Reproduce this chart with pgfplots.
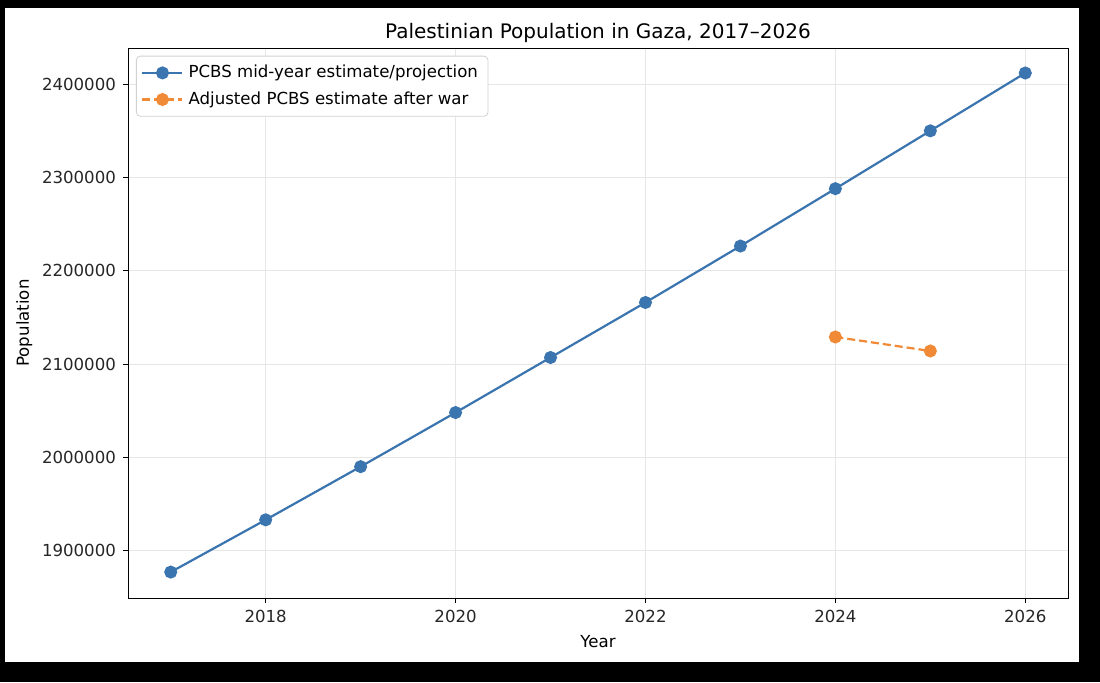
\documentclass[border=0pt]{standalone}
\usepackage{pgfplots}
\pgfplotsset{compat=1.18}
\usepackage{fontspec}
\setmainfont{DejaVu Sans}
\definecolor{mblue}{HTML}{3B75AF}
\definecolor{morange}{HTML}{F08A36}
\definecolor{gridc}{HTML}{E6E6E6}
\begin{document}
\begin{tikzpicture}
\fill[black] (0pt,0pt) rectangle (550pt,341pt);
\fill[white] (2.5pt,10pt) rectangle (539.5pt,337pt);
\begin{axis}[
  at={(64pt,42pt)}, anchor=south west,
  scale only axis, width=470pt, height=275pt,
  xmin=2016.55, xmax=2026.45,
  ymin=1849200, ymax=2438800,
  xtick={2018,2020,2022,2024,2026},
  ytick={1900000,2000000,2100000,2200000,2300000,2400000},
  scaled y ticks=false,
  /pgf/number format/assume math mode=true,
  /pgf/number format/1000 sep={},
  /pgf/number format/fixed,
  tick label style={font=\fontsize{8.3}{10}\selectfont, text=black!85},
  label style={font=\fontsize{8.3}{10}\selectfont},
  tick align=outside, major tick length=2.5pt,
  tick style={black, line width=0.45pt},
  xtick pos=bottom, ytick pos=left,
  grid=major, major grid style={gridc, line width=0.45pt},
  axis line style={black, line width=0.45pt},
  title={Palestinian Population in Gaza, 2017–2026},
  title style={font=\fontsize{10}{12}\selectfont, yshift=-7pt},
  xlabel={Year}, ylabel={Population},
  xlabel style={yshift=0.5pt}, ylabel style={yshift=-2pt},
  legend style={at={(0.0085,0.986)}, anchor=north west, draw=black!18, rounded corners=2pt,
    font=\fontsize{8.3}{10}\selectfont, row sep=1.5pt, inner sep=2.5pt,
    nodes={inner xsep=2.5pt}},
  legend image code/.code={\draw[mark repeat=2,mark phase=2,#1] plot coordinates {(0pt,0pt) (10pt,0pt) (20pt,0pt)};},
  legend cell align=left,
]
\addplot[mblue, line width=1.1pt, mark=*, mark size=2.7pt, mark options={solid}] coordinates {
(2017,1877000) (2018,1933000) (2019,1990000) (2020,2048000) (2021,2107000)
(2022,2166000) (2023,2226500) (2024,2288000) (2025,2350000) (2026,2412000)};
\addlegendentry{PCBS mid-year estimate/projection}
\addplot[morange, line width=1.1pt, dashed, dash pattern=on 4pt off 2pt, mark=*, mark size=2.7pt, mark options={solid}] coordinates {
(2024,2129000) (2025,2114000)};
\addlegendentry{Adjusted PCBS estimate after war}
\end{axis}
\end{tikzpicture}
\end{document}
